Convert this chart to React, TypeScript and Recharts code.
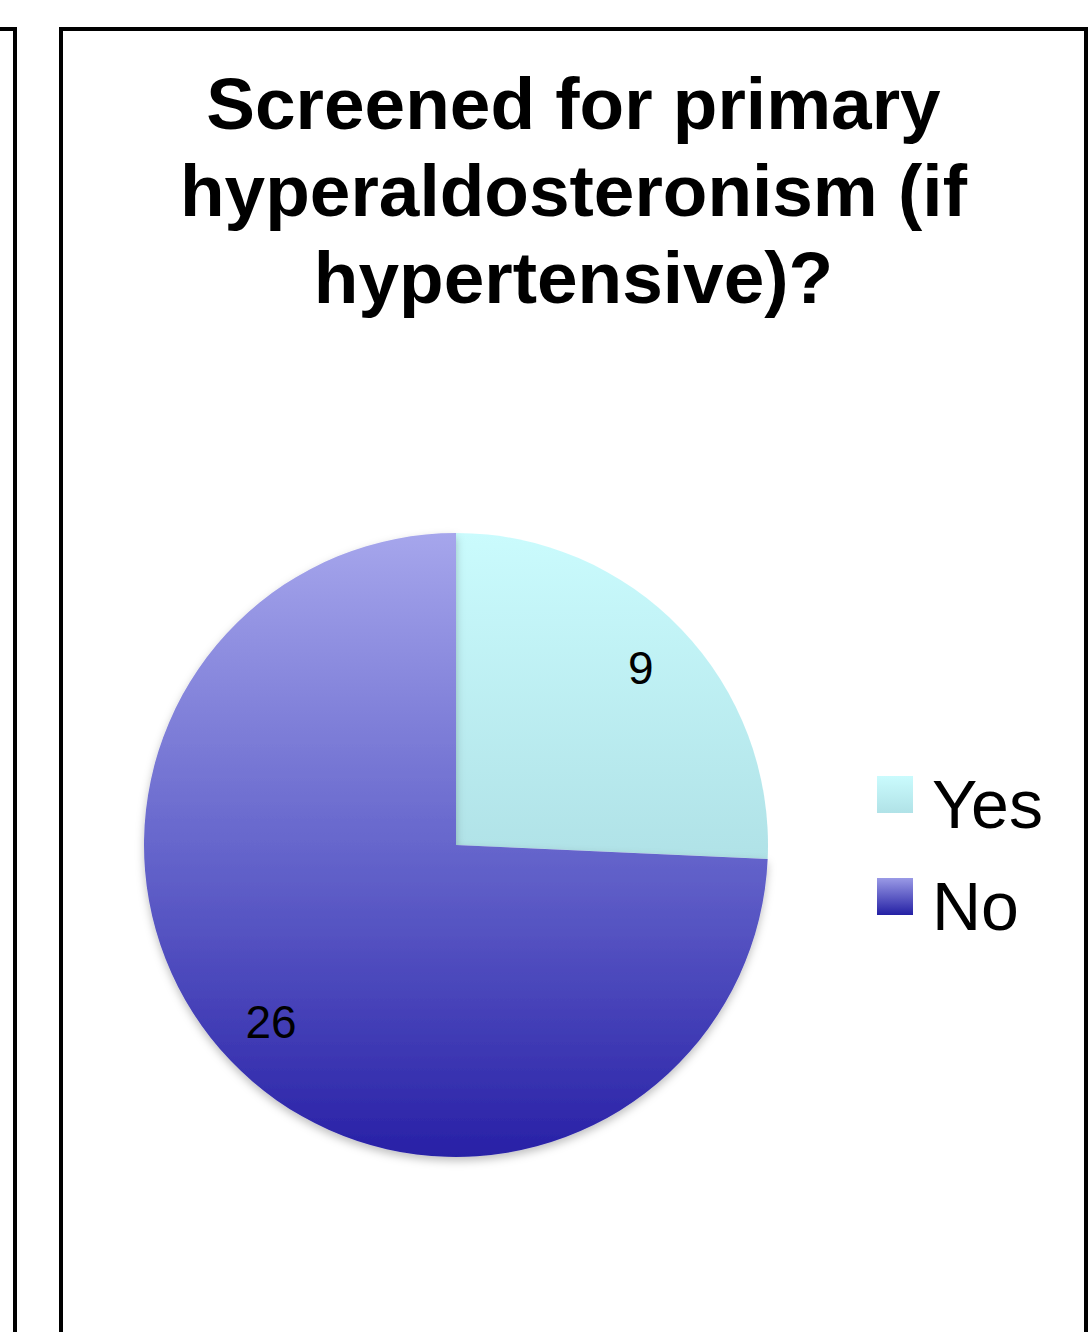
import React from 'react';
import { PieChart, Pie, Cell, Legend } from 'recharts';

const categories = ['Yes', 'No'];
const counts = [9, 26];
const gradientIds = ['gradYes', 'gradNo'];
const legendSwatches = [
  'linear-gradient(#cafbfd, #b0e2e7)',
  'linear-gradient(#9a9ae6, #2420a4)',
];

const chartData = categories.map((name, i) => ({ name, value: counts[i] }));

const FONT = '"Liberation Sans", Arial, Helvetica, sans-serif';
const RADIAN = Math.PI / 180;

const renderLabel = (props: any) => {
  const { cx, cy, midAngle, outerRadius, value } = props;
  const r = outerRadius * 0.82;
  const x = cx + r * Math.cos(-midAngle * RADIAN);
  const y = cy + r * Math.sin(-midAngle * RADIAN);
  return (
    <text
      x={x}
      y={y}
      textAnchor="middle"
      dominantBaseline="central"
      fontFamily={FONT}
      fontSize={46}
      fill="#000"
    >
      {value}
    </text>
  );
};

const renderLegend = () => (
  <div style={{ position: 'relative', width: 200, height: 204, fontFamily: FONT }}>
    {categories.map((name, i) => (
      <div key={name} style={{ position: 'absolute', left: 0, top: i * 102, height: 102, width: 200 }}>
        <div
          style={{
            position: 'absolute',
            left: 0,
            top: 6,
            width: 36,
            height: 37,
            background: legendSwatches[i],
          }}
        />
        <span
          style={{
            position: 'absolute',
            left: 55,
            top: 0,
            fontSize: 68,
            lineHeight: '68px',
            color: '#000',
            whiteSpace: 'nowrap',
          }}
        >
          {name}
        </span>
      </div>
    ))}
  </div>
);

export default function App() {
  return (
    <div
      style={{
        position: 'absolute',
        left: 0,
        top: 0,
        width: 1092,
        height: 1332,
        overflow: 'hidden',
        background: '#fff',
      }}
    >
      {/* neighbouring panel edge */}
      <div
        style={{
          position: 'absolute',
          left: -100,
          top: 27,
          width: 117,
          height: 1400,
          border: '4px solid #000',
          boxSizing: 'border-box',
        }}
      />
      {/* panel frame */}
      <div
        style={{
          position: 'absolute',
          left: 59,
          top: 27,
          width: 1029,
          height: 1400,
          border: '4px solid #000',
          boxSizing: 'border-box',
        }}
      />
      <div
        style={{
          position: 'absolute',
          left: 61,
          top: 60,
          width: 1025,
          textAlign: 'center',
          fontFamily: FONT,
          fontWeight: 'bold',
          fontSize: 73,
          lineHeight: '87px',
          color: '#000',
        }}
      >
        Screened for primary
        <br />
        hyperaldosteronism (if
        <br />
        hypertensive)?
      </div>
      <div style={{ position: 'absolute', left: 0, top: 0 }}>
        <PieChart width={1092} height={1332} margin={{ top: 0, right: 0, bottom: 0, left: 0 }}>
          <defs>
            <linearGradient id="gradYes" x1="0" y1="0" x2="0" y2="1">
              <stop offset="0%" stopColor="#cafbfd" />
              <stop offset="100%" stopColor="#b0e2e7" />
            </linearGradient>
            <linearGradient id="gradNo" x1="0" y1="0" x2="0" y2="1">
              <stop offset="0%" stopColor="#a6a6ec" />
              <stop offset="50%" stopColor="#6666cc" />
              <stop offset="100%" stopColor="#2820a6" />
            </linearGradient>
            <filter id="pieShadow" x="-10%" y="-10%" width="120%" height="125%">
              <feDropShadow dx="0" dy="4" stdDeviation="4" floodColor="#000" floodOpacity="0.25" />
            </filter>
          </defs>
          <Pie
            data={chartData}
            dataKey="value"
            nameKey="name"
            cx={456}
            cy={845}
            outerRadius={312}
            startAngle={90}
            endAngle={-270}
            stroke="none"
            label={renderLabel}
            labelLine={false}
            isAnimationActive={false}
          >
            {chartData.map((d, i) => (
              <Cell
                key={d.name}
                fill={`url(#${gradientIds[i]})`}
                filter={i === 1 ? 'url(#pieShadow)' : undefined}
              />
            ))}
          </Pie>
          <Legend
            content={renderLegend}
            wrapperStyle={{ position: 'absolute', left: 877, top: 770, width: 200, height: 204 }}
          />
        </PieChart>
      </div>
    </div>
  );
}
